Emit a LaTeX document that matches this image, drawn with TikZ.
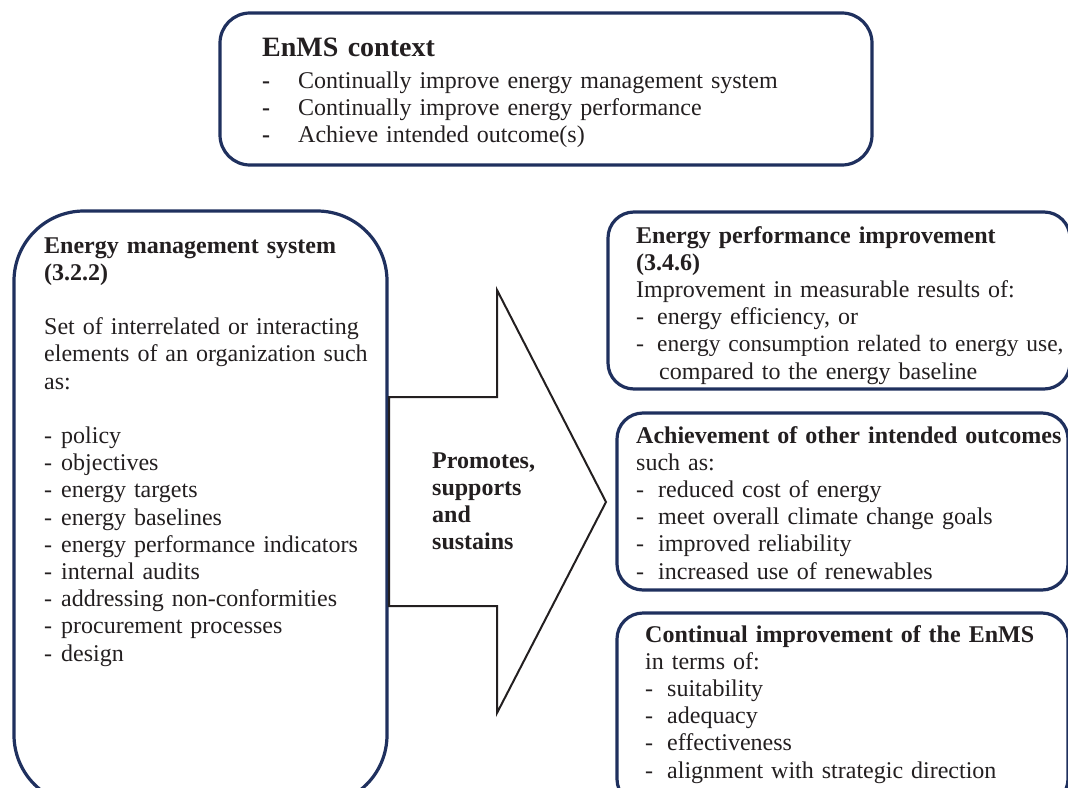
\documentclass[tikz,border=0pt]{standalone}
\usepackage{fontspec}
\setmainfont{Liberation Serif}
\usetikzlibrary{positioning}
\definecolor{boxnavy}{RGB}{31,48,94}
\definecolor{inkgray}{RGB}{35,31,32}
\newcommand{\lstdash}[1][17pt]{\makebox[#1][l]{-}}
\newcommand{\ctxdash}{\makebox[36pt][l]{\textbf{-}}}

\begin{document}
\begin{tikzpicture}[x=1pt,y=-1pt,
    roundbox/.style={draw=boxnavy, line width=3.2pt, fill=white, inner sep=0pt},
    boxtext/.style={anchor=base west, inner sep=0pt, align=left, text width=#1,
      text=inkgray, font=\fontsize{24}{27.2}\selectfont}]
  \useasboundingbox (0,0) rectangle (1068,787);

  % Riquadri
  \node[roundbox, rounded corners=30pt, minimum width=652pt, minimum height=152pt] (context) at (546,89) {};
  \node[roundbox, rounded corners=70pt, minimum width=373pt, minimum height=594pt] (enms) at (200.5,508) {};
  \node[roundbox, rounded corners=26pt, minimum width=462pt, minimum height=177pt] (perf) at (839,300.5) {};
  \node[roundbox, rounded corners=26pt, minimum width=451pt, minimum height=177pt] (outcome) at (842.5,501.5) {};
  \node[roundbox, rounded corners=26pt, minimum width=451pt, minimum height=192pt] (improve) at (842.5,709) {};

  % Freccia centrale
  \draw[line width=2pt, fill=white, draw=inkgray] (389,397) -- (497,397) -- (497,290) -- (606,502)
    -- (497,713) -- (497,606) -- (389,606) -- cycle;

  % Testi
  \node[boxtext=600pt, font=\bfseries\fontsize{28}{30}\selectfont] (ctxtitle) at (262,56) {EnMS context};
  \node[boxtext=600pt, font=\fontsize{24}{27}\selectfont] (ctxlist) at (262,88)
    {\ctxdash Continually improve energy management system\\
     \ctxdash Continually improve energy performance\\
     \ctxdash Achieve intended outcome(s)};

  \node[boxtext=360pt] (enmstext) at (44,253)
    {\textbf{Energy management system}\\ \textbf{(3.2.2)}\\ \mbox{}\\
     Set of interrelated or interacting\\ elements of an organization such\\ as:\\ \mbox{}\\
     \lstdash policy\\ \lstdash objectives\\ \lstdash energy targets\\ \lstdash energy baselines\\
     \lstdash energy performance indicators\\ \lstdash internal audits\\
     \lstdash addressing non-conformities\\ \lstdash procurement processes\\ \lstdash design};

  \node[boxtext=150pt, font=\bfseries\fontsize{24}{27}\selectfont] (promote) at (432,468)
    {Promotes,\\ supports\\ and\\ sustains};

  \node[boxtext=440pt] (perftext) at (636,243)
    {\textbf{Energy performance improvement}\\ \textbf{(3.4.6)}\\
     Improvement in measurable results of:\\
     \lstdash[21pt]energy efficiency, or\\
     \lstdash[21pt]{\fontsize{23.4}{27.2}\selectfont energy consumption related to energy use,}\\
     \hspace*{23pt}compared to the energy baseline};

  \node[boxtext=440pt] (outcometext) at (636,443)
    {\textbf{Achievement of other intended outcomes}\\ such as:\\
     \lstdash[22pt]reduced cost of energy\\ \lstdash[22pt]meet overall climate change goals\\
     \lstdash[22pt]improved reliability\\ \lstdash[22pt]increased use of renewables};

  \node[boxtext=420pt] (improvetext) at (645,642)
    {\textbf{Continual improvement of the EnMS}\\ in terms of:\\
     \lstdash[22pt]suitability\\ \lstdash[22pt]adequacy\\ \lstdash[22pt]effectiveness\\
     \lstdash[22pt]alignment with strategic direction};
\end{tikzpicture}
\end{document}
